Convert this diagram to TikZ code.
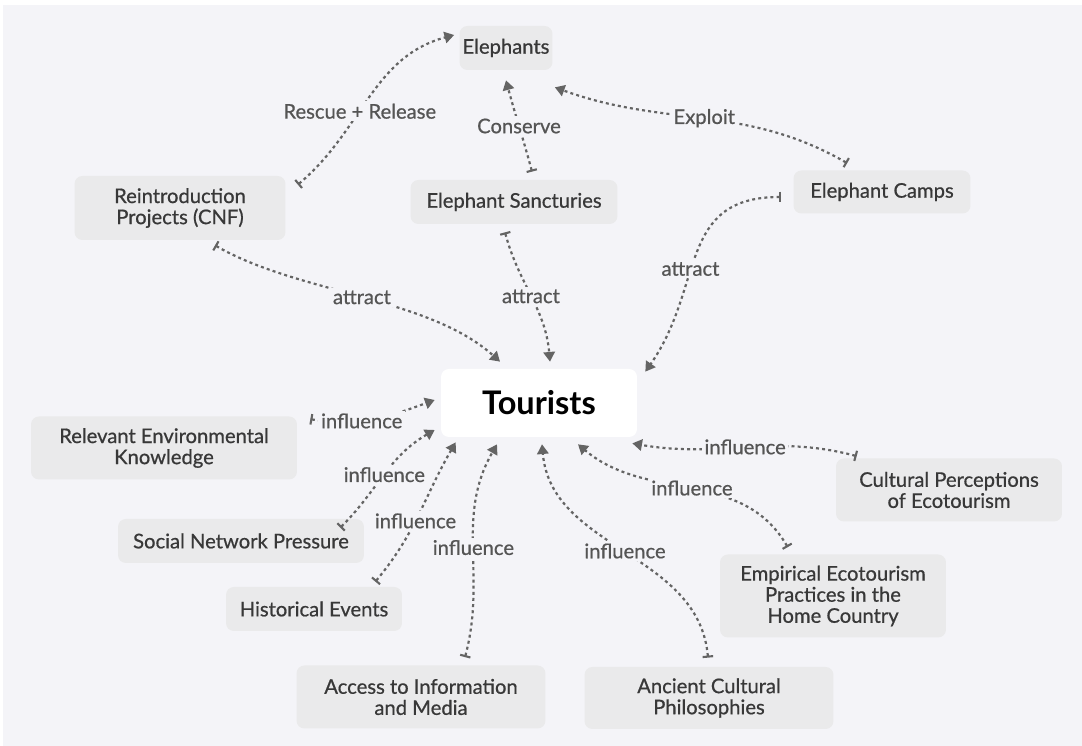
\documentclass[tikz,border=0pt]{standalone}
\usepackage{fontspec}
\setmainfont{Lato}
\newfontfamily\medfont{Lato}[FakeBold=0.7]
\usetikzlibrary{arrows.meta,calc}

\definecolor{bgcol}{HTML}{F4F4F8}
\definecolor{boxcol}{HTML}{EAEAEB}
\definecolor{txtcol}{HTML}{383838}
\definecolor{linecol}{HTML}{646464}

\tikzset{
  box/.style={fill=boxcol, rounded corners=4.5pt, text=txtcol, align=center, inner sep=0pt,
    font=\medfont\fontsize{11.5}{12}\selectfont},
  tourbox/.style={fill=white, rounded corners=4.5pt, text=black, inner sep=0pt,
    minimum width=3.92cm, minimum height=1.36cm, font=\fontsize{18.5}{20}\selectfont\bfseries},
  link/.style={draw=linecol, line width=1.25pt, dash pattern=on 1.7pt off 1.8pt,
    {Bar[width=6pt,line width=1.2pt]}-{Triangle[length=5.5pt,width=6.5pt]}},
  lab/.style={fill=bgcol, text=linecol!85!black, inner sep=1.5pt, font=\medfont\fontsize{11.5}{12}\selectfont},
}

\begin{document}
\begin{tikzpicture}[x=0.02cm, y=0.02cm]
  \useasboundingbox (0,0) rectangle (1082,746);
  \fill[bgcol] (3,0) rectangle (1082,741);

  % nodes
  \node[box, minimum width=1.86cm, minimum height=0.88cm] (eleph) at (506,698) {Elephants};
  \node[box, minimum width=4.22cm, minimum height=1.28cm] (rein) at (180,538) {Reintroduction\\Projects (CNF)};
  \node[box, minimum width=4.14cm, minimum height=0.88cm] (sanct) at (514,544) {Elephant Sancturies};
  \node[box, minimum width=3.54cm, minimum height=0.86cm] (camps) at (882,554) {Elephant Camps};
  \node[tourbox] (tour) at (539,343) {Tourists};
  \node[box, minimum width=5.32cm, minimum height=1.26cm] (envk) at (164,298) {Relevant Environmental\\Knowledge};
  \node[box, minimum width=4.52cm, minimum height=1.26cm] (cult) at (949,256) {Cultural Perceptions\\of Ecotourism};
  \node[box, minimum width=4.92cm, minimum height=0.88cm] (social) at (241,205) {Social Network Pressure};
  \node[box, minimum width=4.52cm, minimum height=1.66cm] (empir) at (833,150) {Empirical Ecotourism\\Practices in the\\Home Country};
  \node[box, minimum width=3.52cm, minimum height=0.88cm] (hist) at (314,137) {Historical Events};
  \node[box, minimum width=4.98cm, minimum height=1.26cm] (access) at (421,49) {Access to Information\\and Media};
  \node[box, minimum width=4.98cm, minimum height=1.24cm] (ancient) at (709,48) {Ancient Cultural\\Philosophies};

  % elephants
  \draw[link] ($(rein.north east)+(12,-9)$) to[out=40,in=195]
    node[lab, pos=0.42] {Rescue + Release} ($(eleph.west)+(-5,13)$);
  \draw[link] ($(sanct.north)+(18,8)$) to[out=105,in=-75]
    node[lab] {Conserve} ($(eleph.south)+(0,-10)$);
  \draw[link] ($(camps.north west)+(54,7)$) to[out=150,in=-20]
    node[lab] {Exploit} ($(eleph.south east)+(2,-17)$);

  % attract
  \draw[link] ($(rein.south)+(35,-5)$) to[out=-30,in=138,looseness=0.8]
    node[lab] {attract} ($(tour.north)+(-39,7)$);
  \draw[link] ($(sanct.south)+(-9,-8)$) to[out=-75,in=95]
    node[lab] {attract} ($(tour.north)+(11,7)$);
  \draw[link] ($(camps.west)+(-12,-5)$) to[out=180,in=55,looseness=1.2]
    node[lab, pos=0.58] {attract} ($(tour.north east)+(8,-3)$);

  % influence
  \draw[link] ($(envk.north east)+(13,-3)$) to[out=-10,in=200]
    node[lab, pos=0.4] {influence} ($(tour.west)+(-6,3)$);
  \draw[link] ($(social.north east)+(-24,-9)$) to[out=45,in=210]
    node[lab] {influence} ($(tour.west)+(-6,-27)$);
  \draw[link] ($(hist.north east)+(-27,5)$) to[out=50,in=240]
    node[lab, pos=0.45] {influence} ($(tour.south west)+(15,-5)$);
  \draw[link] ($(access.north)+(44,8)$) to[out=75,in=240]
    node[lab] {influence} ($(tour.south)+(-42,-7)$);
  \draw[link] ($(ancient.north)+(-1,9)$) to[out=95,in=-85]
    node[lab] {influence} ($(tour.south)+(3,-7)$);
  \draw[link] ($(empir.north west)+(68,7)$) to[out=120,in=-40]
    node[lab, pos=0.5] {influence} ($(tour.south)+(39,-7)$);
  \draw[link] ($(cult.north west)+(21,2)$) to[out=165,in=-10]
    node[lab] {influence} ($(tour.south east)+(-5,-6)$);
\end{tikzpicture}
\end{document}
